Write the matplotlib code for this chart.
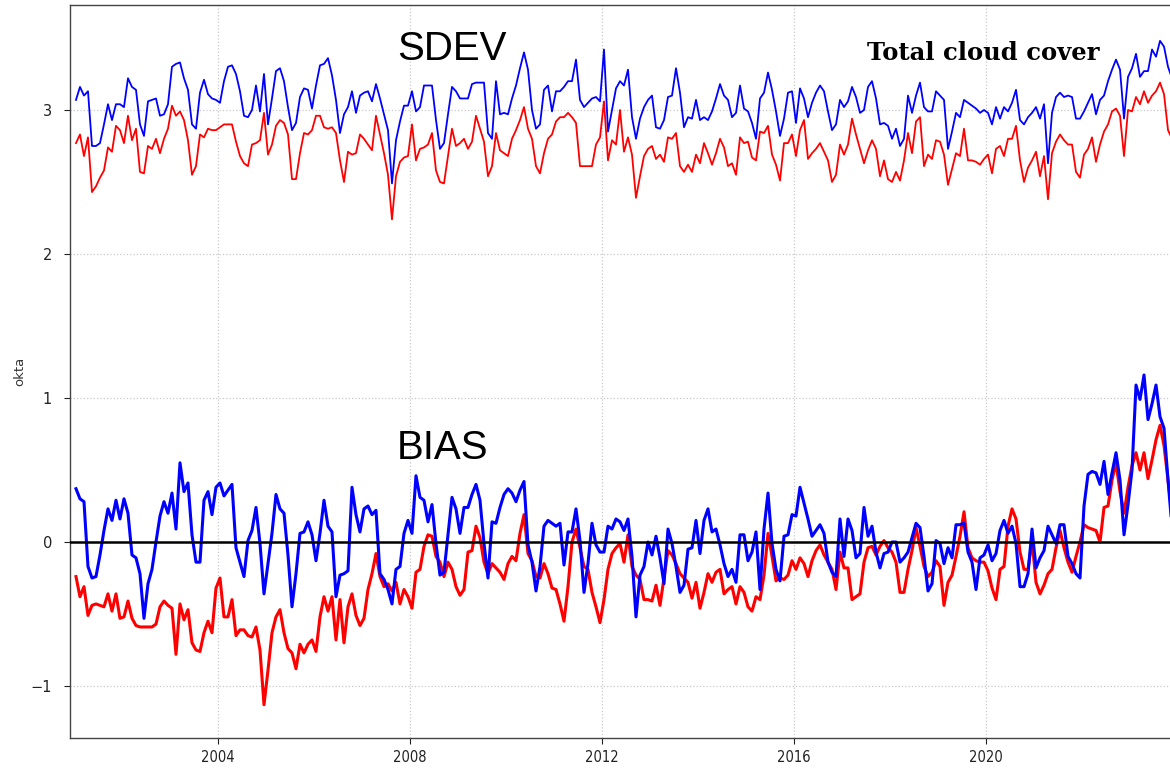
import numpy as np
import matplotlib
matplotlib.use("Agg")
import matplotlib.pyplot as plt

# monthly values starting Jan 2001 (okta)
sdev_blue = [
    3.07, 3.16, 3.10, 3.13, 2.75, 2.75, 2.77, 2.90, 3.04, 2.93,
    3.04, 3.04, 3.02, 3.22, 3.16, 3.14, 2.90, 2.82, 3.06, 3.07,
    3.08, 2.96, 2.97, 3.04, 3.30, 3.32, 3.33, 3.22, 3.14, 2.90,
    2.87, 3.12, 3.21, 3.11, 3.08, 3.07, 3.05, 3.20, 3.30, 3.31,
    3.25, 3.13, 2.96, 2.95, 3.00, 3.17, 2.99, 3.25, 2.90, 3.08,
    3.27, 3.29, 3.20, 3.02, 2.86, 2.91, 3.09, 3.15, 3.14, 3.01,
    3.17, 3.31, 3.32, 3.36, 3.24, 3.07, 2.84, 2.97,
    3.02, 3.13, 2.98, 3.10, 3.12, 3.13, 3.06, 3.18, 3.08, 2.97,
    2.86, 2.49, 2.79, 2.92, 3.03, 3.03, 3.13, 2.99, 3.02, 3.17,
    3.17, 3.17, 2.93, 2.73, 2.77, 2.97, 3.16, 3.13, 3.08, 3.08,
    3.08, 3.18, 3.19, 3.19, 3.19, 2.84, 2.80, 3.20, 2.97, 2.98,
    2.97, 3.08, 3.17, 3.29, 3.40, 3.28, 3.00, 2.87, 2.90, 3.14,
    3.17, 2.99, 3.13, 3.13, 3.16, 3.20, 3.20, 3.35, 3.07, 3.02,
    3.05, 3.08, 3.09, 3.06, 3.42, 2.85, 3.00, 3.15, 3.20,
    3.17, 3.28, 2.95, 2.80, 2.94, 3.02, 3.07, 3.10, 2.88, 2.87,
    2.93, 3.09, 3.10, 3.29, 3.12, 2.88, 2.95, 2.94, 3.07, 2.93,
    2.95, 2.93, 2.99, 3.08, 3.18, 3.10, 3.07, 2.95, 2.98, 3.17,
    3.01, 2.99, 2.91, 2.80, 3.08, 3.12, 3.26, 3.14, 2.99, 2.82,
    2.94, 3.12, 3.13, 2.91, 3.15, 3.08, 2.95, 3.05, 3.12, 3.17,
    3.13, 2.99, 2.86, 2.90, 3.07, 3.02, 3.06, 3.16, 3.09, 2.98,
    3.00, 3.16, 3.20, 3.08, 2.90, 2.91, 2.89, 2.80,
    2.87, 2.75, 2.80, 3.10, 2.98, 3.10, 3.19, 3.02, 2.99, 2.99,
    3.13, 3.10, 3.07, 2.73, 2.85, 2.98, 2.95, 3.07, 3.05, 3.03,
    3.01, 2.98, 3.00, 2.98, 2.90, 3.02, 2.94, 3.02, 2.99, 3.05,
    3.14, 2.93, 2.90, 2.95, 2.98, 3.02, 2.94, 3.04, 2.63, 2.98,
    3.09, 3.12, 3.09, 3.10, 3.09, 2.94, 2.94, 2.99, 3.05, 3.11,
    2.97, 3.07, 3.10, 3.20, 3.28, 3.35, 3.28, 2.94, 3.23, 3.29,
    3.39, 3.23, 3.27, 3.27, 3.42, 3.37, 3.48, 3.44, 3.30, 3.22,
]

sdev_red = [
    2.77, 2.83, 2.68, 2.81, 2.43, 2.47, 2.53, 2.58, 2.74, 2.71,
    2.89, 2.86, 2.77, 2.96, 2.79, 2.87, 2.57, 2.56, 2.75, 2.73,
    2.80, 2.70, 2.80, 2.87, 3.03, 2.96, 2.99, 2.93, 2.79, 2.55,
    2.61, 2.83, 2.81, 2.87, 2.86, 2.86, 2.88, 2.90, 2.90, 2.90,
    2.78, 2.68, 2.63, 2.61, 2.76, 2.77, 2.79, 2.98, 2.69, 2.76,
    2.89, 2.93, 2.91, 2.83, 2.52, 2.52, 2.70, 2.84, 2.83, 2.86,
    2.96, 2.96, 2.88, 2.87, 2.88, 2.84, 2.65, 2.50,
    2.71, 2.69, 2.70, 2.83, 2.80, 2.76, 2.72, 2.96, 2.83, 2.70,
    2.55, 2.24, 2.54, 2.64, 2.67, 2.68, 2.90, 2.65, 2.73, 2.74,
    2.76, 2.84, 2.58, 2.50, 2.49, 2.68, 2.87, 2.75, 2.77, 2.80,
    2.73, 2.78, 2.96, 2.87, 2.78, 2.54, 2.61, 2.84, 2.72, 2.70,
    2.68, 2.80, 2.86, 2.93, 3.02, 2.87, 2.80, 2.61, 2.56, 2.70,
    2.80, 2.83, 2.92, 2.95, 2.95, 2.98, 2.95, 2.91, 2.61, 2.61,
    2.61, 2.61, 2.76, 2.81, 3.06, 2.65, 2.79, 2.76, 3.00,
    2.71, 2.81, 2.69, 2.39, 2.54, 2.68, 2.73, 2.75, 2.66, 2.69,
    2.64, 2.81, 2.80, 2.84, 2.61, 2.57, 2.62, 2.57, 2.69, 2.63,
    2.77, 2.70, 2.62, 2.70, 2.80, 2.74, 2.61, 2.63, 2.55, 2.81,
    2.77, 2.78, 2.67, 2.65, 2.85, 2.84, 2.89, 2.69, 2.62, 2.51,
    2.77, 2.77, 2.83, 2.68, 2.86, 2.93, 2.66, 2.70, 2.73, 2.77,
    2.71, 2.65, 2.50, 2.55, 2.76, 2.69, 2.76, 2.94, 2.83, 2.73,
    2.63, 2.72, 2.79, 2.73, 2.54, 2.65, 2.52, 2.50,
    2.57, 2.51, 2.65, 2.84, 2.70, 2.92, 2.95, 2.61, 2.69, 2.66,
    2.79, 2.78, 2.69, 2.48, 2.59, 2.70, 2.68, 2.87, 2.65, 2.65,
    2.64, 2.62, 2.66, 2.69, 2.56, 2.73, 2.75, 2.68, 2.80, 2.80,
    2.89, 2.65, 2.50, 2.60, 2.65, 2.71, 2.54, 2.68, 2.38, 2.70,
    2.78, 2.83, 2.79, 2.76, 2.76, 2.57, 2.53, 2.69, 2.73, 2.81,
    2.64, 2.76, 2.85, 2.90, 2.99, 3.01, 2.96, 2.68, 3.00, 2.99,
    3.09, 3.04, 3.13, 3.05, 3.10, 3.13, 3.19, 3.11, 2.86, 2.80,
]

bias_blue = [
    0.37, 0.30, 0.28, -0.17, -0.25, -0.24, -0.09, 0.08, 0.23, 0.15,
    0.29, 0.16, 0.30, 0.20, -0.09, -0.11, -0.22, -0.53, -0.29, -0.19,
    0.00, 0.18, 0.28, 0.20, 0.34, 0.09, 0.55, 0.35, 0.41, 0.05,
    -0.14, -0.14, 0.29, 0.35, 0.19, 0.38, 0.41, 0.32, 0.36, 0.40,
    -0.04, -0.14, -0.24, 0.01, 0.08, 0.24, -0.01, -0.36, -0.15, 0.06,
    0.33, 0.23, 0.20, -0.09, -0.45, -0.22, 0.06, 0.07, 0.14, 0.05,
    -0.13, 0.06, 0.29, 0.11, 0.07, -0.38, -0.23, -0.22,
    -0.20, 0.38, 0.19, 0.07, 0.23, 0.25, 0.19, 0.22, -0.22, -0.26,
    -0.33, -0.43, -0.19, -0.17, 0.06, 0.15, 0.06, 0.46, 0.31, 0.29,
    0.14, 0.26, -0.01, -0.23, -0.21, 0.05, 0.31, 0.23, 0.06, 0.24,
    0.24, 0.33, 0.40, 0.29, -0.01, -0.25, 0.14, 0.13, 0.24, 0.33,
    0.37, 0.34, 0.28, 0.36, 0.42, -0.02, -0.14, -0.34, -0.17, 0.11,
    0.15, 0.13, 0.11, 0.13, -0.16, 0.07, 0.07, 0.23, 0.01, -0.35,
    -0.15, 0.13, -0.02, -0.07, -0.07, 0.11, 0.09, 0.16, 0.14,
    0.08, 0.16, -0.10, -0.52, -0.23, -0.17, 0.00, -0.09, 0.04, -0.11,
    -0.29, 0.09, -0.01, -0.17, -0.35, -0.30, -0.05, -0.04, 0.15, -0.08,
    0.15, 0.23, 0.07, 0.09, -0.02, -0.15, -0.24, -0.19, -0.28, 0.05,
    0.05, -0.13, -0.07, 0.07, -0.33, 0.09, 0.34, -0.01, -0.19, -0.27,
    0.04, 0.05, 0.19, 0.18, 0.38, 0.27, 0.16, 0.04, 0.08, 0.12,
    0.06, -0.14, -0.21, -0.24, 0.16, -0.10, 0.16, 0.08, -0.11, -0.08,
    0.24, 0.04, 0.11, -0.07, -0.18, -0.08, -0.07, 0.00,
    0.00, -0.14, -0.11, -0.07, 0.03, 0.13, 0.10, -0.10, -0.34, -0.29,
    0.01, -0.01, -0.15, -0.04, -0.11, 0.12, 0.12, 0.13, -0.07, -0.14,
    -0.33, -0.11, -0.09, -0.02, -0.13, -0.08, 0.08, 0.15, 0.06, 0.11,
    -0.01, -0.31, -0.31, -0.22, 0.09, -0.18, -0.11, -0.06, 0.11, 0.05,
    -0.01, 0.12, 0.12, -0.10, -0.15, -0.22, -0.25, 0.25, 0.47, 0.49,
    0.48, 0.40, 0.56, 0.33, 0.48, 0.62, 0.43, 0.05, 0.26, 0.50,
    1.09, 0.99, 1.16, 0.85, 0.96, 1.09, 0.87, 0.79, 0.43, 0.10,
]

bias_red = [
    -0.24, -0.38, -0.31, -0.51, -0.44, -0.43, -0.44, -0.45, -0.36, -0.48,
    -0.36, -0.53, -0.52, -0.41, -0.53, -0.58, -0.59, -0.59, -0.59, -0.59,
    -0.57, -0.45, -0.41, -0.44, -0.46, -0.78, -0.43, -0.54, -0.47, -0.70,
    -0.75, -0.76, -0.63, -0.55, -0.63, -0.32, -0.25, -0.52, -0.52, -0.40,
    -0.65, -0.61, -0.61, -0.65, -0.66, -0.59, -0.75, -1.13, -0.89, -0.63,
    -0.52, -0.47, -0.63, -0.74, -0.77, -0.88, -0.71, -0.77, -0.71, -0.68,
    -0.76, -0.52, -0.38, -0.48, -0.38, -0.68, -0.40, -0.70,
    -0.45, -0.36, -0.51, -0.58, -0.53, -0.33, -0.22, -0.08, -0.24, -0.31,
    -0.29, -0.34, -0.28, -0.43, -0.33, -0.38, -0.46, -0.21, -0.19, -0.03,
    0.05, 0.04, -0.10, -0.14, -0.24, -0.14, -0.19, -0.31, -0.37, -0.33,
    -0.07, -0.06, 0.11, 0.03, -0.14, -0.22, -0.15, -0.18, -0.21, -0.26,
    -0.15, -0.10, -0.13, 0.06, 0.19, -0.08, -0.13, -0.24, -0.25, -0.15,
    -0.22, -0.32, -0.33, -0.43, -0.55, -0.31, 0.00, 0.09, -0.04, -0.17,
    -0.19, -0.35, -0.45, -0.56, -0.40, -0.19, -0.08, -0.04, -0.01,
    -0.14, 0.05, -0.17, -0.23, -0.26, -0.40, -0.40, -0.41, -0.30, -0.44,
    -0.25, -0.06, -0.09, -0.15, -0.22, -0.25, -0.28, -0.39, -0.28, -0.46,
    -0.35, -0.22, -0.28, -0.21, -0.19, -0.36, -0.33, -0.31, -0.43, -0.31,
    -0.35, -0.45, -0.48, -0.38, -0.40, -0.23, 0.06, -0.10, -0.27, -0.25,
    -0.26, -0.23, -0.13, -0.19, -0.11, -0.15, -0.24, -0.13, -0.06, -0.02,
    -0.09, -0.14, -0.19, -0.33, -0.07, -0.18, -0.18, -0.40, -0.38, -0.36,
    -0.14, -0.04, -0.03, -0.09, -0.03, 0.01, -0.04, -0.07,
    -0.14, -0.35, -0.35, -0.19, -0.06, 0.10, -0.03, -0.17, -0.24, -0.21,
    -0.13, -0.17, -0.44, -0.28, -0.23, -0.10, 0.04, 0.21, -0.04, -0.11,
    -0.13, -0.14, -0.14, -0.20, -0.32, -0.40, -0.19, -0.17, 0.11, 0.23,
    0.16, -0.07, -0.19, -0.19, 0.01, -0.28, -0.36, -0.30, -0.22, -0.19,
    -0.04, 0.08, -0.04, -0.14, -0.21, -0.10, 0.00, 0.12, 0.10, 0.09,
    0.08, 0.00, 0.24, 0.25, 0.43, 0.55, 0.35, 0.20, 0.38, 0.53,
    0.62, 0.50, 0.62, 0.44, 0.57, 0.71, 0.81, 0.67, 0.43, 0.20,
]

year_ticks = [2004, 2008, 2012, 2016, 2020]
okta_ticks = [-1, 0, 1, 2, 3]


def months(vals):
    # mid-month positions in decimal years from Jan 2001
    return 2001 + (np.arange(len(vals)) + 0.5) / 12.0


fig = plt.figure(figsize=(11.7, 7.69), dpi=100)
ax = fig.add_axes([70 / 1170, 1 - 738 / 769, 1 - 70 / 1170, 733 / 769])

ax.plot(months(sdev_blue), sdev_blue, color="#0000ff", lw=1.3)
ax.plot(months(sdev_red), sdev_red, color="#ff0000", lw=1.3)
ax.plot(months(bias_red), bias_red, color="#ff0000", lw=2.2)
ax.plot(months(bias_blue), bias_blue, color="#0000ff", lw=2.2)
ax.axhline(0, color="black", lw=1.8, zorder=3)

ax.set_xlim(2000.917, 2023.833)
ax.set_ylim(-1.361, 3.729)
ax.set_xticks(year_ticks)
ax.set_xticklabels([str(y) for y in year_ticks], fontsize=10.5, fontstretch="condensed")
ax.set_yticks(okta_ticks)
ax.set_yticklabels(["\u22121", "0", "1", "2", "3"], fontsize=10.5)
ax.tick_params(axis="y", length=4, pad=9, colors="#222222")
ax.tick_params(axis="x", length=4, pad=5, colors="#222222")
ax.grid(True, color="#c8c8c8", ls=":", lw=0.9)
ax.set_axisbelow(True)
ax.set_ylabel("okta", fontsize=9.5, color="#333333", labelpad=3)

for s in ["left", "bottom", "top"]:
    ax.spines[s].set_color("#444444")
    ax.spines[s].set_linewidth(1.0)
ax.spines["right"].set_visible(False)

ax.text(2007.73, 3.35, "SDEV", fontsize=29, family="Liberation Sans", va="baseline", ha="left")
ax.text(2007.73, 0.576, "BIAS", fontsize=29, family="Liberation Sans", va="baseline", ha="left")
ax.text(2017.52, 3.347, "Total cloud cover", fontsize=17.5, family="DejaVu Serif",
        weight="bold", va="baseline", ha="left")

fig.savefig("out.png", dpi=100)
